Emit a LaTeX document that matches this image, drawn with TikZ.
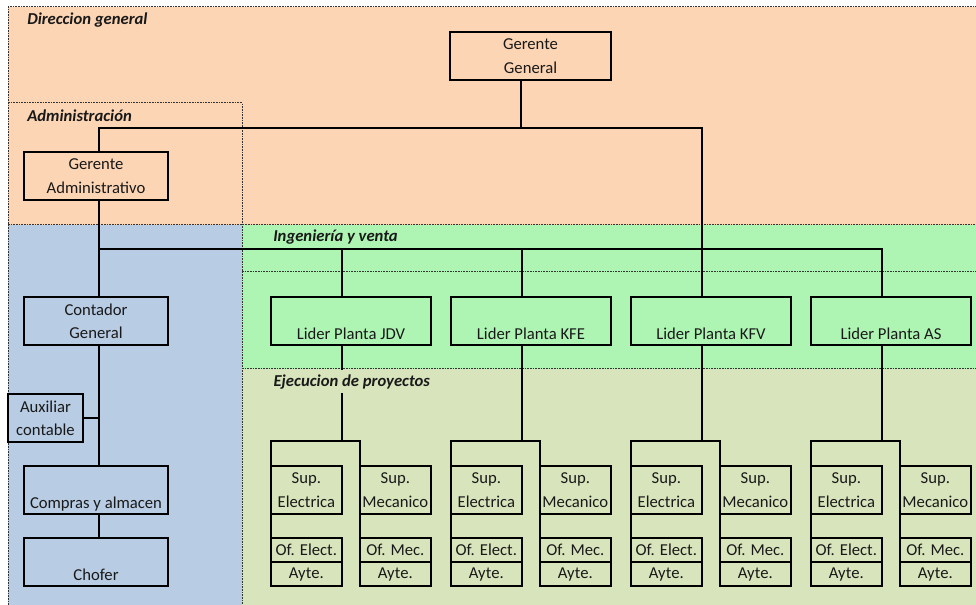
\documentclass[tikz,border=0pt]{standalone}
\usepackage{fontspec}
\setmainfont{Carlito}
\definecolor{dirfill}{RGB}{252,213,180}
\definecolor{admfill}{RGB}{184,204,228}
\definecolor{ingfill}{RGB}{174,245,180}
\definecolor{ejefill}{RGB}{216,228,188}
\newcommand{\lowtext}[1]{\raisebox{-14pt}[0pt][0pt]{#1}}
\begin{document}
\begin{tikzpicture}[x=0.75pt,y=-0.75pt,
  zone/.style={draw=black!80, line width=0.75pt, dash pattern=on 1.2pt off 0.8pt},
  conn/.style={draw=black, line width=1.6pt},
  orgbox/.style={draw=black, line width=1.6pt, inner sep=0pt, outer sep=0pt,
    anchor=north west, minimum height=36pt, text=black!90,
    font=\fontsize{12.5}{17.5}\selectfont},
  two/.style={orgbox, align=center},
  wide/.style={minimum width=108pt},
  lider/.style={orgbox, minimum width=120pt},
  sup/.style={orgbox, align=center, minimum width=53pt},
  crew/.style={orgbox, minimum width=53pt, minimum height=18pt},
  zonelabel/.style={anchor=base west, inner sep=0pt, text=black!90,
    font=\fontsize{12.5}{14}\selectfont\bfseries\itshape}
]
\useasboundingbox (0,0) rectangle (976,605);

% department areas
\fill[dirfill] (8,7) rectangle (977,225);
\fill[admfill] (8,225) rectangle (242,606);
\fill[ingfill] (242,225) rectangle (977,369);
\fill[ejefill] (242,369) rectangle (977,606);

% dashed area borders
\draw[zone] (977,7) -- (8,7) -- (8,606);
\draw[zone] (8,225) -- (977,225);
\draw[zone] (8,103) -- (242,103) -- (242,606);
\draw[zone] (242,272) -- (977,272);
\draw[zone] (242,369) -- (977,369);

% management and administration
\node[two, minimum width=120.75pt] (gg) at (450,32) {Gerente\\General};
\node[two, wide] (ga) at (24,152) {Gerente\\Administrativo};
\node[two, wide] (cg) at (24,297) {Contador\\General};
\node[two, minimum width=56.25pt] (aux) at (8,394) {Auxiliar\\contable};
\node[orgbox, wide] (compras) at (24,466) {\lowtext{Compras y almacen}};
\node[orgbox, wide] (chofer) at (24,538) {\lowtext{Chofer}};

% plants and their crews
\foreach \g/\X in {JDV/271, KFE/451, KFV/631, AS/811} {
  \node[lider] (lp\g) at (\X,297) {\lowtext{Lider Planta \g}};
  \node[sup] (supE\g) at (\X,466) {Sup.\\Electrica};
  \node[sup] (supM\g) at (\X+89,466) {Sup.\\Mecanico};
  \node[crew] (ofE\g) at (\X,538) {Of. Elect.};
  \node[crew] (ayE\g) at (\X,562) {Ayte.};
  \node[crew] (ofM\g) at (\X+89,538) {Of. Mec.};
  \node[crew] (ayM\g) at (\X+89,562) {Ayte.};
  \coordinate (br\g) at (\X+70.67,441);
  \draw[conn] (lp\g.south -| br\g) -- (br\g);
  \draw[conn] (ofE\g.north west) -- (ofE\g.north west |- br\g)
    -- (ofM\g.north west |- br\g) -- (ofM\g.north west);
}

% reporting lines
\coordinate (jA) at (99,128);
\coordinate (jB) at (701.67,128);
\coordinate (jG) at (521,128);
\coordinate (jC) at (99,249);
\coordinate (jD) at (881.67,249);
\draw[conn] (gg.south -| jG) -- (jG);
\draw[conn] (jA |- ga.north) -- (jA) -- (jB) -- (jB |- lpKFV.north);
\draw[conn] (jA |- ga.south) -- (jA |- cg.north);
\draw[conn] (jC) -- (jD) -- (jD |- lpAS.north);
\draw[conn] (jC -| supEJDV.east) -- (supEJDV.east |- lpJDV.north);
\draw[conn] (jC -| supEKFE.east) -- (supEKFE.east |- lpKFE.north);
\draw[conn] (jA |- cg.south) -- (jA |- compras.north);
\draw[conn] (aux.east) -- (aux.east -| jA);
\draw[conn] (jA |- compras.south) -- (jA |- chofer.north);

% area titles
\node[zonelabel] (tDir) at (27,25) {Direccion general};
\node[zonelabel] (tAdm) at (27,122) {Administración};
\node[zonelabel] (tIng) at (273,242) {Ingeniería y venta};
\node[zonelabel, fill=ejefill, text height=11pt, text depth=3pt,
  inner xsep=1pt, inner ysep=1.5pt] (tEje) at (272,387) {Ejecucion de proyectos};
\end{tikzpicture}
\end{document}
